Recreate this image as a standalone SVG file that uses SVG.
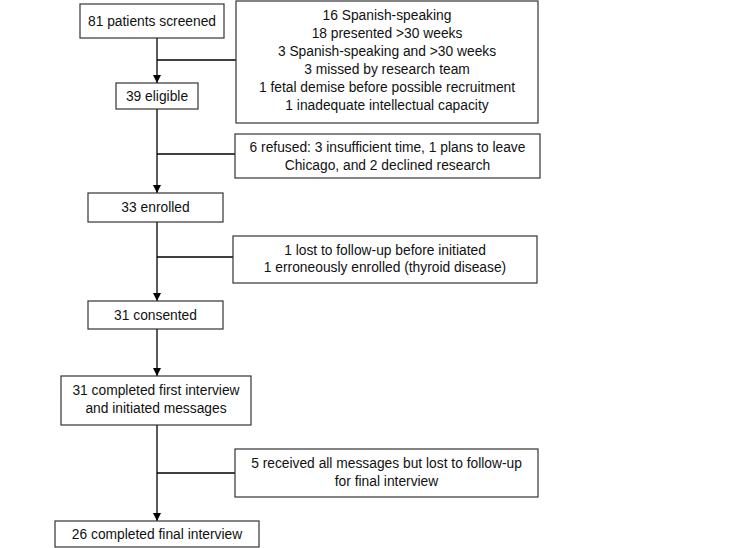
<svg xmlns="http://www.w3.org/2000/svg" width="733" height="548" viewBox="0 0 733 548">
<defs>
<marker id="arr" viewBox="0 0 10 10" refX="10" refY="5" markerWidth="8" markerHeight="8" markerUnits="userSpaceOnUse" orient="auto">
<path d="M0,0 L10,5 L0,10 Z" fill="#000"/>
</marker>
<style>
.box{fill:#fff;stroke:#333;stroke-width:1.2}
.ln{fill:none;stroke:#000;stroke-width:1.3}
text{font-family:"Liberation Sans",Arial,sans-serif;font-size:13.8px;fill:#111;text-anchor:middle;dominant-baseline:central}
</style>
</defs>
<rect width="733" height="548" fill="#fff"/>
<g id="connectors">
<line class="ln" x1="157" y1="38" x2="157" y2="83" marker-end="url(#arr)"/>
<line class="ln" x1="157" y1="60" x2="236" y2="60"/>
<line class="ln" x1="157" y1="109" x2="157" y2="193" marker-end="url(#arr)"/>
<line class="ln" x1="157" y1="154" x2="235" y2="154"/>
<line class="ln" x1="157" y1="222" x2="157" y2="301" marker-end="url(#arr)"/>
<line class="ln" x1="157" y1="257" x2="233" y2="257"/>
<line class="ln" x1="157" y1="329" x2="157" y2="376" marker-end="url(#arr)"/>
<line class="ln" x1="157" y1="425" x2="157" y2="521" marker-end="url(#arr)"/>
<line class="ln" x1="157" y1="473" x2="235" y2="473"/>
</g>
<g id="n-screened">
<rect class="box" x="80" y="4" width="144" height="34"/>
<text x="152" y="21">81 patients screened</text>
</g>
<g id="n-excluded">
<rect class="box" x="236" y="1" width="302" height="122"/>
<text x="387" y="15">16 Spanish-speaking</text>
<text x="387" y="33">18 presented &gt;30 weeks</text>
<text x="387" y="51">3 Spanish-speaking and &gt;30 weeks</text>
<text x="387" y="69">3 missed by research team</text>
<text x="387" y="87">1 fetal demise before possible recruitment</text>
<text x="387" y="105">1 inadequate intellectual capacity</text>
</g>
<g id="n-eligible">
<rect class="box" x="116" y="83" width="82" height="26"/>
<text x="157" y="96">39 eligible</text>
</g>
<g id="n-refused">
<rect class="box" x="235" y="134" width="305" height="44"/>
<text x="387.5" y="147">6 refused: 3 insufficient time, 1 plans to leave</text>
<text x="387.5" y="165">Chicago, and 2 declined research</text>
</g>
<g id="n-enrolled">
<rect class="box" x="88" y="193" width="135" height="29"/>
<text x="155.5" y="207.5">33 enrolled</text>
</g>
<g id="n-lost">
<rect class="box" x="233" y="236" width="304" height="47"/>
<text x="385" y="250">1 lost to follow-up before initiated</text>
<text x="385" y="267">1 erroneously enrolled (thyroid disease)</text>
</g>
<g id="n-consented">
<rect class="box" x="88" y="301" width="135" height="28"/>
<text x="155.5" y="315">31 consented</text>
</g>
<g id="n-first">
<rect class="box" x="61" y="376" width="190" height="49"/>
<text x="156" y="390">31 completed first interview</text>
<text x="156" y="408">and initiated messages</text>
</g>
<g id="n-received">
<rect class="box" x="235" y="449" width="303" height="48"/>
<text x="386.5" y="463">5 received all messages but lost to follow-up</text>
<text x="386.5" y="481">for final interview</text>
</g>
<g id="n-final">
<rect class="box" x="55" y="521" width="204" height="26"/>
<text x="157" y="534">26 completed final interview</text>
</g>
</svg>
